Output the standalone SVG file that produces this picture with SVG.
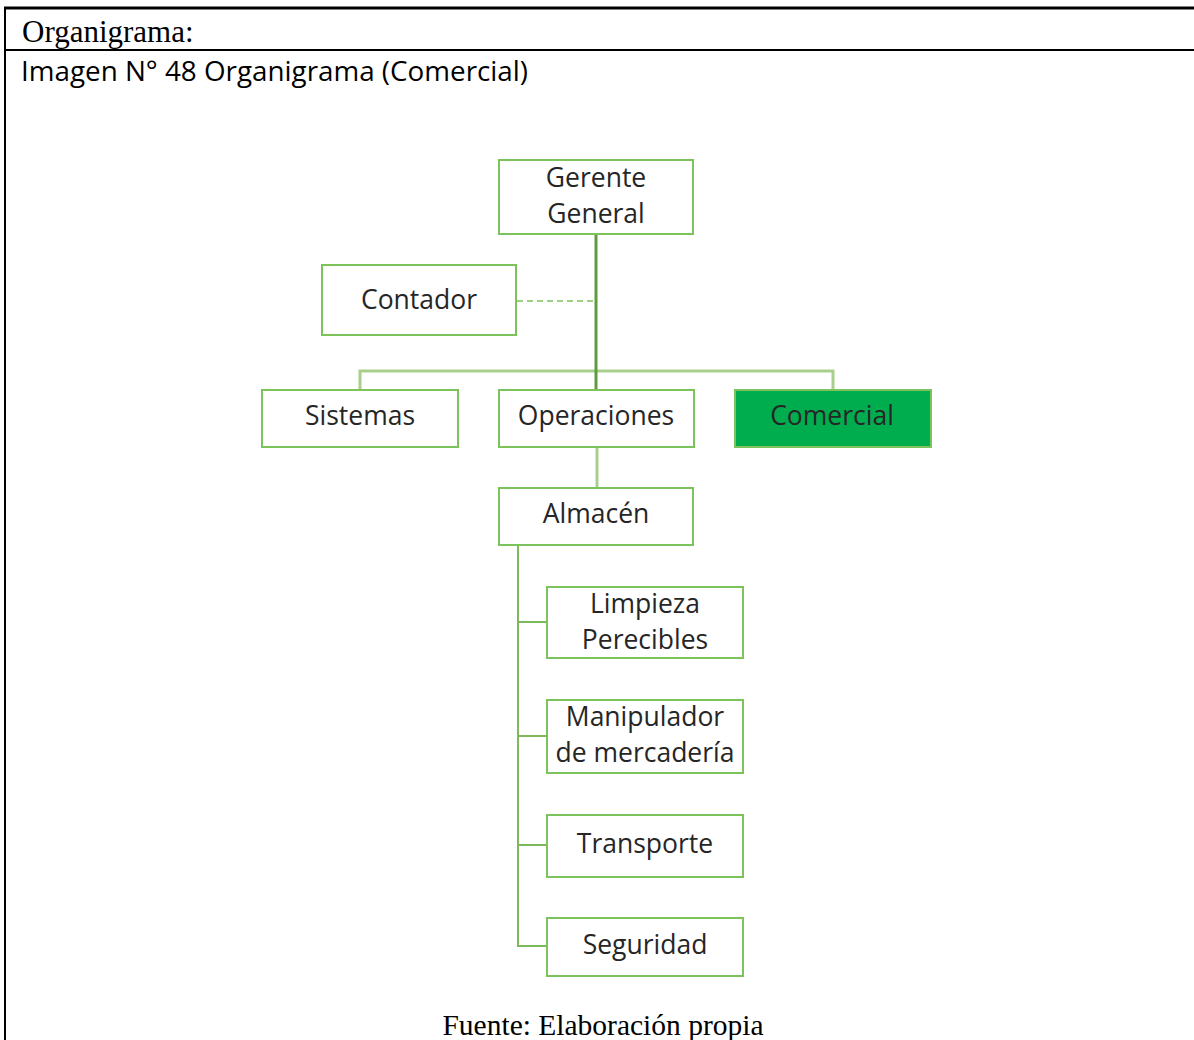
<svg xmlns="http://www.w3.org/2000/svg" width="1194" height="1040" viewBox="0 0 1194 1040">
  <style>
    .frame { stroke: #000; fill: none; }
    .serif { font-family: "Liberation Serif", "Times New Roman", serif; fill: #000; }
    .title { font-family: "Open Sans", "Liberation Sans", sans-serif; font-size: 27.8px; fill: #000; }
    .box { fill: #fff; stroke: #7dc35b; stroke-width: 2; }
    .box.hl { fill: #00ad4e; stroke: #7dc35b; }
    .lbl { font-family: "Open Sans", "Liberation Sans", sans-serif; font-size: 26.5px; fill: #262626; text-anchor: middle; }
    .main { stroke: #5e9a3f; stroke-width: 3; fill: none; }
    .line { stroke: #a8cf8c; stroke-width: 3; fill: none; }
    .sub { stroke: #7db85a; stroke-width: 2; fill: none; }
    .dash { stroke: #7dc35b; stroke-width: 1.5; stroke-dasharray: 6 4; fill: none; }
  </style>

  <!-- table frame -->
  <line class="frame" x1="4" y1="8" x2="1194" y2="8" stroke-width="3"/>
  <line class="frame" x1="4" y1="50" x2="1194" y2="50" stroke-width="2"/>
  <line class="frame" x1="5" y1="7" x2="5" y2="1040" stroke-width="2"/>

  <text class="serif" x="22" y="42" font-size="31">Organigrama:</text>
  <text class="title" x="21" y="81">Imagen N° 48 Organigrama (Comercial)</text>
  <text class="serif" x="603" y="1035" font-size="29.5" text-anchor="middle">Fuente: Elaboración propia</text>

  <!-- connectors -->
  <g id="connectors">
    <line class="dash" x1="517" y1="301" x2="595" y2="301"/>
    <path class="line" d="M360 390 V371 H833 V390"/>
    <line class="line" x1="597" y1="447" x2="597" y2="488"/>
    <line class="main" x1="596" y1="234" x2="596" y2="390"/>
    <path class="sub" d="M518 545 V946 H547 M518 622 H547 M518 736 H547 M518 845 H547"/>
  </g>

  <g id="gerente">
    <rect class="box" x="499" y="160" width="194" height="74"/>
    <text class="lbl" x="596" y="187">Gerente</text>
    <text class="lbl" x="596" y="223">General</text>
  </g>
  <g id="contador">
    <rect class="box" x="322" y="265" width="194" height="70"/>
    <text class="lbl" x="419" y="309">Contador</text>
  </g>
  <g id="sistemas">
    <rect class="box" x="262" y="390" width="196" height="57"/>
    <text class="lbl" x="360" y="425">Sistemas</text>
  </g>
  <g id="operaciones">
    <rect class="box" x="499" y="390" width="195" height="57"/>
    <text class="lbl" x="596" y="425">Operaciones</text>
  </g>
  <g id="comercial">
    <rect class="box hl" x="735" y="390" width="196" height="57"/>
    <text class="lbl" x="832" y="425">Comercial</text>
  </g>
  <g id="almacen">
    <rect class="box" x="499" y="488" width="194" height="57"/>
    <text class="lbl" x="596" y="523">Almacén</text>
  </g>
  <g id="limpieza">
    <rect class="box" x="547" y="587" width="196" height="71"/>
    <text class="lbl" x="645" y="613">Limpieza</text>
    <text class="lbl" x="645" y="649">Perecibles</text>
  </g>
  <g id="manipulador">
    <rect class="box" x="547" y="700" width="196" height="73"/>
    <text class="lbl" x="645" y="726">Manipulador</text>
    <text class="lbl" x="645" y="762">de mercadería</text>
  </g>
  <g id="transporte">
    <rect class="box" x="547" y="815" width="196" height="62"/>
    <text class="lbl" x="645" y="853">Transporte</text>
  </g>
  <g id="seguridad">
    <rect class="box" x="547" y="918" width="196" height="58"/>
    <text class="lbl" x="645" y="954">Seguridad</text>
  </g>
</svg>
